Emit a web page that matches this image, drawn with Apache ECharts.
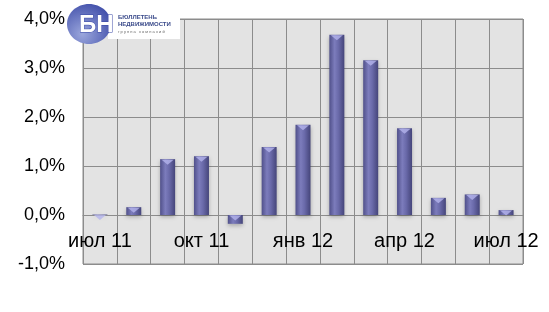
<!DOCTYPE html>
<html><head><meta charset="utf-8">
<script src="https://cdn.jsdelivr.net/npm/echarts@6/dist/echarts.min.js"></script>
<style>html,body{margin:0;padding:0;background:#fff}#c{width:549px;height:312px}</style>
</head><body><div id="c"></div>
<script>
const categories = ['июл 11','авг 11','сен 11','окт 11','ноя 11','дек 11','янв 12','фев 12','мар 12','апр 12','май 12','июн 12','июл 12'];
const values = [0.01, 0.16, 1.14, 1.2, -0.18, 1.39, 1.84, 3.68, 3.16, 1.77, 0.35, 0.42, 0.1];
const yTicks = {min: -1, max: 4, interval: 1};

const chart = echarts.init(document.getElementById('c'));
const barGrad = new echarts.graphic.LinearGradient(0,0,1,0,[
  {offset:0,color:'#50508a'},{offset:0.35,color:'#7c7cbc'},{offset:0.6,color:'#6a6aaa'},{offset:1,color:'#45457a'}]);
chart.setOption({
  animation:false,
  grid:{left:83,right:26,top:19,bottom:48,show:true,backgroundColor:'#e3e3e3',borderColor:'#8c8c8c',borderWidth:1},
  xAxis:{type:'category',data:categories,offset:-49,
    axisLine:{show:true,onZero:false,lineStyle:{color:'#8c8c8c'}},
    axisTick:{show:false},
    axisLabel:{interval:2,fontSize:20,color:'#000',fontFamily:'Liberation Sans, Arial, sans-serif',margin:16},
    splitLine:{show:true,interval:0,lineStyle:{color:'#8c8c8c',width:1}}},
  yAxis:{type:'value',min:yTicks.min,max:yTicks.max,interval:yTicks.interval,
    axisLine:{show:false},axisTick:{show:false},
    axisLabel:{fontSize:18,color:'#000',margin:18,fontFamily:'Liberation Sans, Arial, sans-serif',
      formatter:v=>v.toFixed(1).replace('.',',')+'%'},
    splitLine:{lineStyle:{color:'#8c8c8c',width:1}}},
  series:[
    {type:'bar',data:values,barWidth:15,itemStyle:{color:barGrad,shadowColor:'rgba(0,0,0,0.25)',shadowBlur:4,shadowOffsetY:2}},
    {type:'scatter',data:values.map((v,i)=>[i,Math.max(v,0)]),symbol:'triangle',symbolRotate:180,symbolSize:[12,5],symbolOffset:[0,3],
      itemStyle:{color:'#b4b4ec'},z:5}
  ],
  graphic:[
    {type:'rect',shape:{x:108,y:11,width:72,height:28},style:{fill:'#ffffff'},z:10},
    {type:'ellipse',shape:{cx:89,cy:24,rx:22,ry:20},style:{fill:new echarts.graphic.RadialGradient(0.35,0.75,0.9,[{offset:0,color:'#9aa6dc'},{offset:1,color:'#3a48a6'}])},z:11},
    {type:'text',style:{x:79,y:25,text:'БН',fill:'#ffffff',stroke:'#3a48a6',lineWidth:1,font:'bold 24px Liberation Sans, Arial, sans-serif',verticalAlign:'middle'},z:12},
    {type:'text',style:{x:118,y:17,text:'БЮЛЛЕТЕНЬ',fill:'#3a4a8a',font:'bold 6px Liberation Sans, Arial, sans-serif',verticalAlign:'middle'},z:12},
    {type:'text',style:{x:118,y:24,text:'НЕДВИЖИМОСТИ',fill:'#3a4a8a',font:'bold 6px Liberation Sans, Arial, sans-serif',verticalAlign:'middle'},z:12},
    {type:'text',style:{x:118,y:32,text:'г р у п п а   к о м п а н и й',fill:'#666',font:'4px Liberation Sans, Arial, sans-serif',verticalAlign:'middle'},z:12}
  ]
});
</script></body></html>
